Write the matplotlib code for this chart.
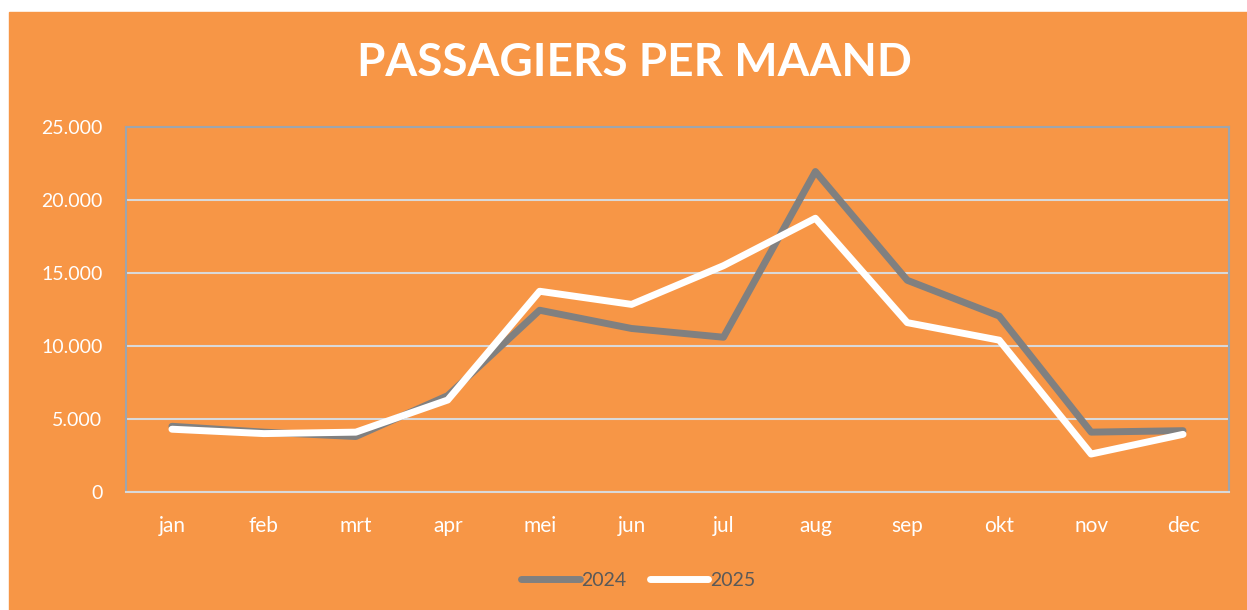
import matplotlib.pyplot as plt
from matplotlib.patches import Rectangle

maanden = ["jan", "feb", "mrt", "apr", "mei", "jun", "jul", "aug", "sep", "okt", "nov", "dec"]
passagiers_2024 = [4500, 4100, 3800, 6600, 12450, 11200, 10600, 21950, 14500, 12050, 4100, 4200]
passagiers_2025 = [4300, 4000, 4100, 6300, 13750, 12850, 15500, 18750, 11600, 10400, 2600, 3950]
y_ticks = [0, 5000, 10000, 15000, 20000, 25000]
y_labels = ["0", "5.000", "10.000", "15.000", "20.000", "25.000"]

oranje = "#F79646"
plt.rcParams['font.family'] = ['Lato', 'DejaVu Sans']

fig = plt.figure(figsize=(12.47, 6.10), dpi=100, facecolor="white")
# oranje achtergrond met witte rand links en boven
achtergrond = Rectangle((9 / 1247, 0), 1 - 9 / 1247, 1 - 12 / 610,
                        transform=fig.transFigure, color=oranje, zorder=-10)
fig.add_artist(achtergrond)

ax = fig.add_axes([126 / 1247, 1 - 492 / 610, (1229 - 126) / 1247, (492 - 127) / 610])
ax.set_facecolor(oranje)

x = range(len(maanden))
ax.plot(x, passagiers_2024, color="#808080", lw=5, label="2024", solid_capstyle="round", zorder=3)
ax.plot(x, passagiers_2025, color="white", lw=5, label="2025", solid_capstyle="round", zorder=4)

ax.set_xlim(-0.5, len(maanden) - 0.5)
ax.set_ylim(0, 25000)
ax.set_yticks(y_ticks)
ax.set_yticklabels(y_labels)
ax.set_xticks(list(x))
ax.set_xticklabels(maanden)
ax.tick_params(axis="y", length=0, pad=17, labelsize=14, labelcolor="white")
ax.tick_params(axis="x", length=0, pad=17, labelsize=15, labelcolor="white")
ax.grid(axis="y", color="#D9D9D9", lw=1.5, zorder=1)

for s in ["left", "right", "top"]:
    ax.spines[s].set_color("#9DA5AE")
    ax.spines[s].set_linewidth(1.5)
ax.spines["bottom"].set_color("#D9D9D9")
ax.spines["bottom"].set_linewidth(1.5)

fig.text(0.509, 1 - 63 / 610, "PASSAGIERS PER MAAND", ha="center", va="center",
         color="white", fontsize=33, fontweight="bold")

leg = fig.legend(loc="center", bbox_to_anchor=(0.512, 1 - 580 / 610), ncol=2, frameon=False,
                 fontsize=14, handlelength=3, handletextpad=0.1, columnspacing=1.2)
for t in leg.get_texts():
    t.set_color("#595959")

plt.savefig("out.png", dpi=100, facecolor=fig.get_facecolor())
